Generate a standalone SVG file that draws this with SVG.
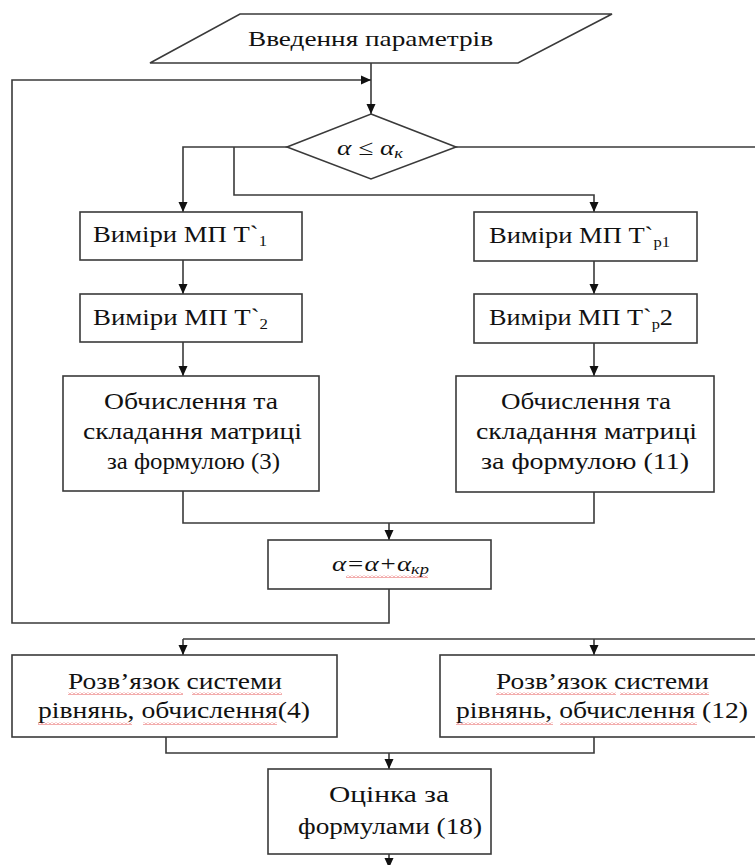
<svg xmlns="http://www.w3.org/2000/svg" width="755" height="865" viewBox="0 0 755 865">
<style>
.box{fill:#fff;stroke:#3a3a3a;stroke-width:1.6}
.ln{fill:none;stroke:#3a3a3a;stroke-width:1.6}
.arr{fill:none;stroke:#3a3a3a;stroke-width:1.6;marker-end:url(#ah)}
.t{font-family:"Liberation Serif","DejaVu Serif",serif;font-size:24px;fill:#111}
.m{font-family:"Liberation Serif","DejaVu Serif",serif;font-size:22px;font-style:italic;fill:#111}
.wv{fill:url(#wave)}
</style>
<defs>
<marker id="ah" viewBox="0 0 10 10" refX="10" refY="5" markerWidth="10" markerHeight="10" markerUnits="userSpaceOnUse" orient="auto">
<path d="M0,0.5 L10,5 L0,9.5 Z" fill="#111"/>
</marker>
<pattern id="wave" width="4" height="3" patternUnits="userSpaceOnUse">
<path d="M0,2.5 L2,0.5 L4,2.5" fill="none" stroke="#e03030" stroke-width="0.8"/>
</pattern>
</defs>
<rect width="755" height="865" fill="#fff"/>

<g id="connectors">
<path class="arr" d="M371,63 V114"/>
<path class="arr" d="M389,589 V623 H12 V80 H371"/>
<path class="arr" d="M287,147 H183 V212"/>
<path class="arr" d="M234,147 V195 H594 V212"/>
<path class="arr" d="M183,260 V294"/>
<path class="arr" d="M594,261 V294"/>
<path class="arr" d="M183,342 V376"/>
<path class="arr" d="M594,343 V376"/>
<path class="ln" d="M183,491 V523 H594 V492"/>
<path class="arr" d="M389,523 V540"/>
<path class="ln" d="M456,147 H757"/>
<path class="ln" d="M183,639 H757"/>
<path class="arr" d="M183,639 V655"/>
<path class="arr" d="M594,639 V655"/>
<path class="ln" d="M166,737 V753 H594 V737"/>
<path class="arr" d="M389,753 V769"/>
<path class="arr" d="M389,854 V868"/>
</g>

<g id="input">
<polygon class="box" points="240,14 612,14 518,63 150,63"/>
<text class="t" x="248" y="46" textLength="245" lengthAdjust="spacingAndGlyphs" style="font-size:22px">Введення параметрів</text>
</g>

<g id="decision">
<polygon class="box" points="371,114 456,147 371,179 287,147"/>
<text class="m" x="337" y="155" textLength="66" lengthAdjust="spacingAndGlyphs">α ≤ α<tspan font-size="15" dy="3">к</tspan></text>
</g>

<g id="meas-t1">
<rect class="box" x="80" y="212" width="222" height="48"/>
<text class="t" x="93" y="242" textLength="174" lengthAdjust="spacingAndGlyphs">Виміри МП Т`<tspan font-size="15" dy="4">1</tspan></text>
</g>

<g id="meas-t2">
<rect class="box" x="80" y="294" width="222" height="48"/>
<text class="t" x="93" y="325" textLength="175" lengthAdjust="spacingAndGlyphs">Виміри МП Т`<tspan font-size="15" dy="4">2</tspan></text>
</g>

<g id="meas-tp1">
<rect class="box" x="474" y="212" width="223" height="49"/>
<text class="t" x="489" y="243" textLength="181" lengthAdjust="spacingAndGlyphs">Виміри МП Т`<tspan font-size="15" dy="4">p1</tspan></text>
</g>

<g id="meas-tp2">
<rect class="box" x="474" y="294" width="223" height="49"/>
<text class="t" x="489" y="325" textLength="184" lengthAdjust="spacingAndGlyphs">Виміри МП Т`<tspan font-size="15" dy="4">p</tspan><tspan dy="-4">2</tspan></text>
</g>

<g id="calc-3">
<rect class="box" x="63" y="376" width="256" height="115"/>
<text class="t" x="104" y="409" textLength="174" lengthAdjust="spacingAndGlyphs">Обчислення та</text>
<text class="t" x="83" y="439" textLength="219" lengthAdjust="spacingAndGlyphs">складання матриці</text>
<text class="t" x="107" y="469" textLength="173" lengthAdjust="spacingAndGlyphs">за формулою (3)</text>
</g>

<g id="calc-11">
<rect class="box" x="456" y="376" width="258" height="116"/>
<text class="t" x="501" y="409" textLength="170" lengthAdjust="spacingAndGlyphs">Обчислення та</text>
<text class="t" x="476" y="439" textLength="221" lengthAdjust="spacingAndGlyphs">складання матриці</text>
<text class="t" x="481" y="469" textLength="208" lengthAdjust="spacingAndGlyphs">за формулою (11)</text>
</g>

<g id="increment">
<rect class="box" x="268" y="540" width="223" height="49"/>
<text class="m" x="332" y="571" textLength="97" lengthAdjust="spacingAndGlyphs">α=α+α<tspan font-size="15" dy="3">кр</tspan></text>
<rect class="wv" x="346" y="575" width="82" height="3"/>
</g>

<g id="solve-4">
<rect class="box" x="12" y="655" width="325" height="82"/>
<text class="t" x="68" y="689" textLength="214" lengthAdjust="spacingAndGlyphs">Розв’язок системи</text>
<text class="t" x="38" y="718" textLength="272" lengthAdjust="spacingAndGlyphs">рівнянь, обчислення(4)</text>
<rect class="wv" x="68" y="692" width="115" height="3"/>
<rect class="wv" x="192" y="692" width="90" height="3"/>
<rect class="wv" x="38" y="722" width="94" height="3"/>
<rect class="wv" x="143" y="722" width="134" height="3"/>
</g>

<g id="solve-12">
<rect class="box" x="440" y="655" width="320" height="82"/>
<text class="t" x="496" y="689" textLength="213" lengthAdjust="spacingAndGlyphs">Розв’язок системи</text>
<text class="t" x="456" y="718" textLength="292" lengthAdjust="spacingAndGlyphs">рівнянь, обчислення (12)</text>
<rect class="wv" x="496" y="692" width="120" height="3"/>
<rect class="wv" x="620" y="692" width="89" height="3"/>
<rect class="wv" x="456" y="722" width="97" height="3"/>
<rect class="wv" x="560" y="722" width="137" height="3"/>
</g>

<g id="estimate">
<rect class="box" x="268" y="769" width="223" height="85"/>
<text class="t" x="329" y="802" textLength="120" lengthAdjust="spacingAndGlyphs">Оцінка за</text>
<text class="t" x="298" y="834" textLength="184" lengthAdjust="spacingAndGlyphs">формулами (18)</text>
</g>
</svg>
